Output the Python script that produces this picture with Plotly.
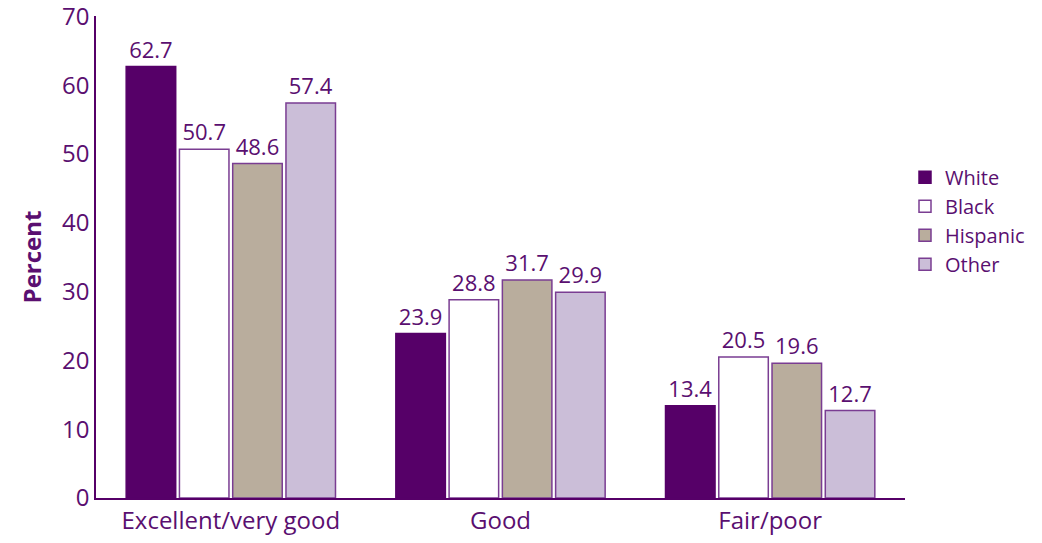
import plotly.graph_objects as go

categories = ["Excellent/very good", "Good", "Fair/poor"]
white = [62.7, 23.9, 13.4]
black = [50.7, 28.8, 20.5]
hispanic = [48.6, 31.7, 19.6]
other = [57.4, 29.9, 12.7]
y_ticks = [0, 10, 20, 30, 40, 50, 60, 70]

PURPLE = "#560068"
TEXT = "#5a0f70"
EDGE = "#7a3d92"
FONT = "Open Sans"

series = [
    ("White", white, PURPLE, PURPLE),
    ("Black", black, "#ffffff", EDGE),
    ("Hispanic", hispanic, "#b9ad9d", EDGE),
    ("Other", other, "#cbbed8", EDGE),
]

fig = go.Figure()
for name, vals, fill, line in series:
    fig.add_trace(go.Bar(
        name=name,
        x=categories,
        y=vals,
        marker=dict(color=fill, line=dict(color=line, width=1.5)),
        text=[f"{v:.1f}" for v in vals],
        textposition="outside",
        textfont=dict(family=FONT, size=22, color=TEXT),
        cliponaxis=False,
    ))

fig.update_layout(
    width=1042,
    height=543,
    barmode="group",
    bargap=0.21,
    bargroupgap=0.07,
    plot_bgcolor="white",
    paper_bgcolor="white",
    margin=dict(l=96, r=129, t=16, b=45),
    font=dict(family=FONT, color=TEXT),
    legend=dict(
        x=1.0, xanchor="left", y=0.575, yanchor="middle",
        font=dict(family=FONT, size=20, color=TEXT),
        tracegroupgap=0, itemwidth=30,
    ),
    xaxis=dict(
        showline=True, linecolor=PURPLE, linewidth=1.5,
        tickfont=dict(family=FONT, size=24, color=TEXT),
        ticks="", automargin=False,
    ),
    yaxis=dict(
        range=[0, 70.05], tickvals=y_ticks, ticklabeloverflow="allow",
        showline=True, linecolor=PURPLE, linewidth=1.5,
        showgrid=False, zeroline=False, ticks="", automargin=False,
        tickfont=dict(family=FONT, size=24, color=TEXT),
        title=dict(text="<b>Percent</b>", font=dict(family=FONT, size=24, color=TEXT), standoff=14),
    ),
)

# drop the default 8px body margin so the figure fills the window
fig.write_html(
    "out.html",
    config={"displayModeBar": False},
    post_script="document.body.style.margin = '0px';",
)
